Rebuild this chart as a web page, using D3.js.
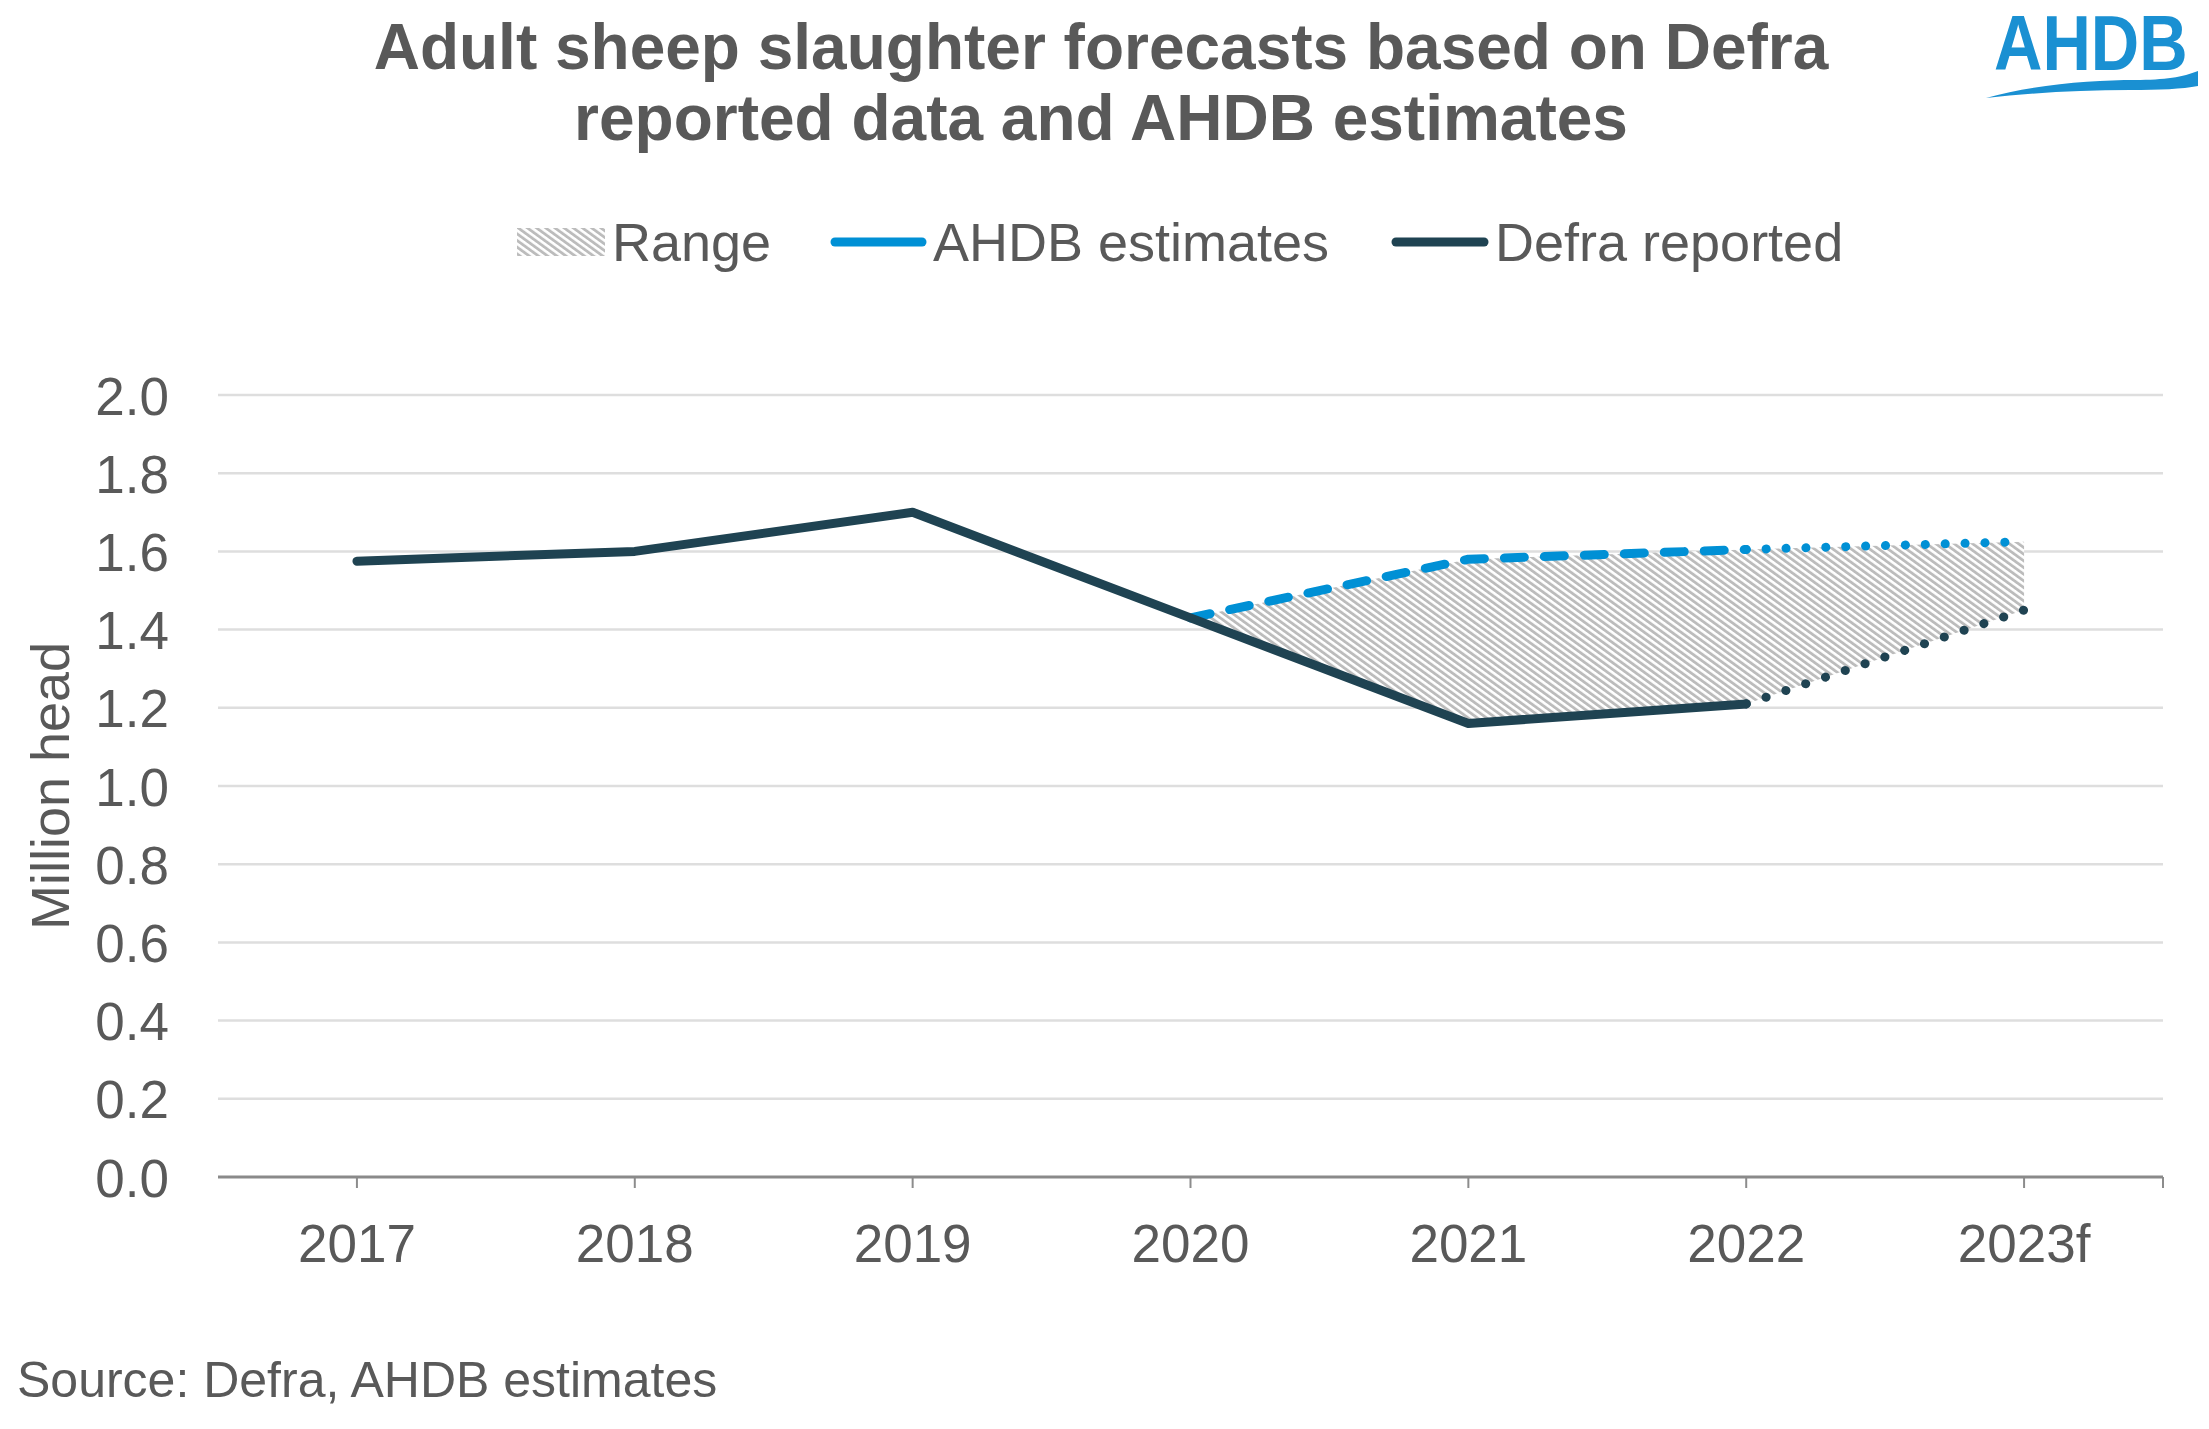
<!DOCTYPE html>
<html>
<head>
<meta charset="utf-8">
<script src="https://cdn.jsdelivr.net/npm/d3@7"></script>
<style>
  html, body { margin: 0; padding: 0; background: #ffffff; }
  svg { display: block; font-family: "Liberation Sans", Arial, sans-serif; }
</style>
</head>
<body>
<svg id="chart" width="2209" height="1429"></svg>
<script>
// ---- data ----
const categories = ["2017", "2018", "2019", "2020", "2021", "2022", "2023f"];
const defraReported = [1.575, 1.60, 1.70, 1.43, 1.16, 1.21, null];
const defraForecast = [null, null, null, null, null, 1.21, 1.45];
const ahdbEstimates = [null, null, null, 1.43, 1.58, 1.605, null];
const ahdbForecast  = [null, null, null, null, null, 1.605, 1.625];
const rangeLow  = [null, null, null, 1.43, 1.16, 1.21, 1.45];
const rangeHigh = [null, null, null, 1.43, 1.58, 1.605, 1.625];
const yTicks = [0.0, 0.2, 0.4, 0.6, 0.8, 1.0, 1.2, 1.4, 1.6, 1.8, 2.0];
const titleLines = ["Adult sheep slaughter forecasts based on Defra", "reported data and AHDB estimates"];
const legendLabels = ["Range", "AHDB estimates", "Defra reported"];
const yTitle = "Million head";
const sourceText = "Source: Defra, AHDB estimates";

// ---- layout ----
const svg = d3.select("#chart");
const plotLeft = 218, plotRight = 2163, plotTop = 395, plotBottom = 1177;
const textColor = "#595959";
const defraColor = "#1f4352";
const ahdbColor = "#0090d5";
const lineW = 9;

const x = d3.scaleBand().domain(categories).range([plotLeft, plotRight]).padding(0);
const cx = c => x(c) + x.bandwidth() / 2;
const y = d3.scaleLinear().domain([0, 2]).range([plotBottom, plotTop]);

// hatch pattern
const defs = svg.append("defs");
const pat = defs.append("pattern")
  .attr("id", "hatch").attr("patternUnits", "userSpaceOnUse")
  .attr("width", 5.4).attr("height", 5.4)
  .attr("patternTransform", "rotate(-54)");
pat.append("rect").attr("width", 5.4).attr("height", 5.4).attr("fill", "#ffffff");
pat.append("rect").attr("width", 2.8).attr("height", 5.4).attr("fill", "#bcbcbc");

// gridlines
svg.append("g").selectAll("line").data(yTicks.filter(d => d !== 0)).join("line")
  .attr("x1", plotLeft).attr("x2", plotRight)
  .attr("y1", d => y(d)).attr("y2", d => y(d))
  .attr("stroke", "#dedede").attr("stroke-width", 2.5);

// y axis labels
const yAxis = d3.axisLeft(y).tickValues(yTicks).tickFormat(d3.format(".1f")).tickSize(0).tickPadding(49);
const gy = svg.append("g").attr("transform", `translate(${plotLeft},0)`).call(yAxis);
gy.select(".domain").remove();
gy.selectAll("text").attr("fill", textColor).attr("font-size", 53)
  .attr("font-family", "Liberation Sans, Arial, sans-serif").attr("dy", "0.36em");

// x axis
const xAxis = d3.axisBottom(x).tickSize(11).tickPadding(36);
const gx = svg.append("g").attr("transform", `translate(0,${plotBottom})`).call(xAxis);
gx.select(".domain").remove();
gx.selectAll(".tick line").attr("stroke", "#8c8c8c").attr("stroke-width", 2);
gx.selectAll("text").attr("fill", textColor).attr("font-size", 53)
  .attr("font-family", "Liberation Sans, Arial, sans-serif");
gx.append("line").attr("x1", plotRight).attr("x2", plotRight).attr("y1", 0).attr("y2", 11)
  .attr("stroke", "#8c8c8c").attr("stroke-width", 2);
gx.append("line").attr("x1", plotLeft).attr("x2", plotRight).attr("y1", 0).attr("y2", 0)
  .attr("stroke", "#8a8a8a").attr("stroke-width", 3);

// range area
const idx = categories.map((c, i) => i);
const area = d3.area()
  .defined(i => rangeLow[i] != null && rangeHigh[i] != null)
  .x(i => cx(categories[i]))
  .y0(i => y(rangeLow[i]))
  .y1(i => y(rangeHigh[i]));
svg.append("path").datum(idx).attr("d", area).attr("fill", "url(#hatch)");

// lines
function drawLine(values, color, dash) {
  const line = d3.line()
    .defined(i => values[i] != null)
    .x(i => cx(categories[i]))
    .y(i => y(values[i]));
  svg.append("path").datum(idx).attr("d", line)
    .attr("fill", "none").attr("stroke", color).attr("stroke-width", lineW)
    .attr("stroke-linecap", "round").attr("stroke-linejoin", "round")
    .attr("stroke-dasharray", dash);
}
drawLine(ahdbEstimates, ahdbColor, "20,20");
drawLine(ahdbForecast, ahdbColor, "0.1,19.8");
drawLine(defraForecast, defraColor, "0.1,20.8");
drawLine(defraReported, defraColor, null);

// title
svg.append("g").selectAll("text").data(titleLines).join("text")
  .attr("x", 1101).attr("y", (d, i) => 69 + i * 71)
  .attr("text-anchor", "middle").attr("font-size", 64).attr("font-weight", "bold")
  .attr("fill", textColor).text(d => d);

// legend
const legY = 242;
const lg = svg.append("g");
lg.append("rect").attr("x", 517).attr("y", legY - 14).attr("width", 88).attr("height", 28)
  .attr("fill", "url(#hatch)");
lg.append("line").attr("x1", 835).attr("x2", 922).attr("y1", legY).attr("y2", legY)
  .attr("stroke", ahdbColor).attr("stroke-width", lineW).attr("stroke-linecap", "round");
lg.append("line").attr("x1", 1396).attr("x2", 1484).attr("y1", legY).attr("y2", legY)
  .attr("stroke", defraColor).attr("stroke-width", lineW).attr("stroke-linecap", "round");
const legX = [612, 933, 1495];
lg.selectAll("text").data(legendLabels).join("text")
  .attr("x", (d, i) => legX[i]).attr("y", legY).attr("dy", "0.35em")
  .attr("font-size", 54).attr("fill", textColor).text(d => d);

// y title
svg.append("text")
  .attr("transform", `translate(69,786) rotate(-90)`)
  .attr("text-anchor", "middle").attr("font-size", 54).attr("fill", textColor)
  .text(yTitle);

// source
svg.append("text").attr("x", 17).attr("y", 1397)
  .attr("font-size", 50).attr("fill", textColor).text(sourceText);

// logo
const logo = svg.append("g");
logo.append("text").attr("transform", "translate(1994,70) scale(1,1.16)")
  .attr("font-size", 67).attr("font-weight", "bold").attr("fill", "#1a90d2")
  .text("AHDB");
logo.append("path")
  .attr("d", "M1986,98 C2035,84 2095,80 2135,80 C2165,80 2183,77 2198,71 L2198,86 C2182,89 2160,90 2130,90 C2080,90 2030,93 1986,98 Z")
  .attr("fill", "#1a90d2");
</script>
</body>
</html>
